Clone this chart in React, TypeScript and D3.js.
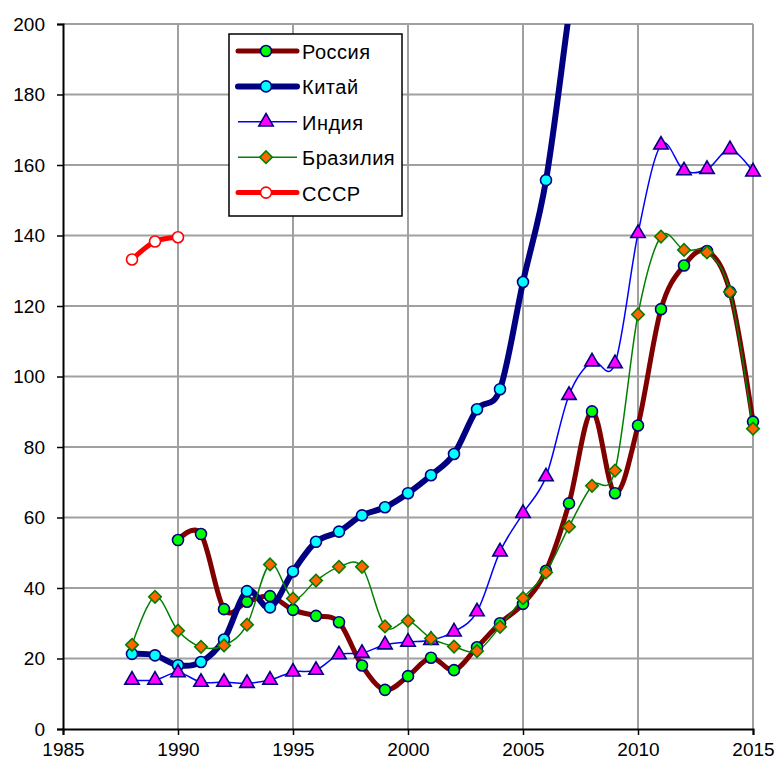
import { useRef, useEffect } from "react";
import * as d3 from "d3";

const years = [
  1988, 1989, 1990, 1991, 1992, 1993, 1994, 1995, 1996, 1997, 1998, 1999,
  2000, 2001, 2002, 2003, 2004, 2005, 2006, 2007, 2008, 2009, 2010, 2011,
  2012, 2013, 2014, 2015,
];

type V = number | null;

const russia: V[] = [
  null, null, 53.6, 55.3, 34.0, 36.1, 37.7, 33.8, 32.1, 30.3, 18.0, 11.1,
  15.0, 20.2, 16.7, 23.2, 30.0, 35.5, 44.9, 64.0, 90.1, 66.9, 86.1, 119.1,
  131.5, 135.6, 124.0, 87.2,
];
// values after 2007 run off the top of the chart
const china: V[] = [
  21.3, 20.9, 18.1, 19.0, 25.4, 39.1, 34.5, 44.7, 53.1, 56.0, 60.6, 62.9,
  66.9, 72.0, 78.0, 90.7, 96.4, 126.8, 155.7, 203, 250, null, null, null,
  null, null, null, null,
];
const india: V[] = [
  13.9, 13.9, 16.0, 13.3, 13.3, 13.0, 13.9, 16.2, 16.7, 21.1, 21.5, 23.9,
  24.7, 25.2, 27.6, 33.3, 50.3, 61.2, 71.6, 94.7, 104.2, 103.7, 140.6, 165.7,
  158.4, 158.8, 164.4, 158.1,
];
const brazil: V[] = [
  23.9, 37.5, 27.9, 23.3, 23.7, 29.6, 46.7, 37.0, 42.1, 46.0, 46.0, 29.1,
  30.7, 25.7, 23.4, 22.1, 29.0, 37.1, 44.4, 57.4, 69.0, 73.3, 117.6, 139.7,
  135.9, 135.2, 124.0, 85.2,
];
const ussr: V[] = [
  133.2, 138.3, 139.5, null, null, null, null, null, null, null, null, null,
  null, null, null, null, null, null, null, null, null, null, null, null,
  null, null, null, null,
];

const seriesNames = ["Россия", "Китай", "Индия", "Бразилия", "СССР"];
const xTicks = [1985, 1990, 1995, 2000, 2005, 2010, 2015];
const yTicks = [0, 20, 40, 60, 80, 100, 120, 140, 160, 180, 200];

type Style = {
  line: string;
  width: number;
  marker: "circle" | "triangle" | "diamond";
  fill: string;
  stroke: string;
};

const styles: Style[] = [
  { line: "#800000", width: 5, marker: "circle", fill: "#00ff00", stroke: "#000080" },
  { line: "#000080", width: 6, marker: "circle", fill: "#00ffff", stroke: "#000080" },
  { line: "#0000ff", width: 1.5, marker: "triangle", fill: "#ff00ff", stroke: "#000080" },
  { line: "#008000", width: 1.5, marker: "diamond", fill: "#ff6600", stroke: "#008000" },
  { line: "#ff0000", width: 5, marker: "circle", fill: "#ffffff", stroke: "#ff0000" },
];

const width = 778;
const height = 762;
const margin = { left: 63, right: 25, top: 24, bottom: 33 };
const font = "'Liberation Sans', Arial, sans-serif";

function drawMarker(
  g: d3.Selection<SVGGElement, unknown, null, undefined>,
  s: Style,
  x: number,
  y: number,
) {
  if (s.marker === "circle") {
    g.append("circle")
      .attr("cx", x)
      .attr("cy", y)
      .attr("r", 5.5)
      .attr("fill", s.fill)
      .attr("stroke", s.stroke)
      .attr("stroke-width", 1.6);
  } else if (s.marker === "triangle") {
    g.append("path")
      .attr("d", d3.symbol(d3.symbolTriangle, 90)())
      .attr("transform", `translate(${x},${y})`)
      .attr("fill", s.fill)
      .attr("stroke", s.stroke)
      .attr("stroke-width", 1.6);
  } else {
    g.append("path")
      .attr("d", d3.symbol(d3.symbolSquare, 78)())
      .attr("transform", `translate(${x},${y}) rotate(45)`)
      .attr("fill", s.fill)
      .attr("stroke", s.stroke)
      .attr("stroke-width", 1.6);
  }
}

export default function App() {
  const ref = useRef<SVGSVGElement>(null);

  useEffect(() => {
    if (!ref.current) return;
    const svg = d3.select(ref.current);
    svg.selectAll("*").remove();

    const x = d3
      .scaleLinear()
      .domain([1985, 2015])
      .range([margin.left, width - margin.right]);
    const y = d3
      .scaleLinear()
      .domain([0, 200])
      .range([height - margin.bottom, margin.top]);

    // clip lines at the top of the plot
    svg
      .append("defs")
      .append("clipPath")
      .attr("id", "plotclip")
      .append("rect")
      .attr("x", 0)
      .attr("y", margin.top)
      .attr("width", width)
      .attr("height", height - margin.top);

    // Grid
    const grid = svg.append("g");
    yTicks.slice(1).forEach((t) => {
      grid
        .append("line")
        .attr("x1", x(1985))
        .attr("x2", x(2015))
        .attr("y1", y(t))
        .attr("y2", y(t))
        .attr("stroke", "#a0a0a0")
        .attr("stroke-width", 2);
    });
    xTicks.slice(1).forEach((t) => {
      grid
        .append("line")
        .attr("x1", x(t))
        .attr("x2", x(t))
        .attr("y1", y(0))
        .attr("y2", y(200))
        .attr("stroke", "#a0a0a0")
        .attr("stroke-width", 2);
    });

    // Axes
    const axisX = svg
      .append("g")
      .attr("transform", `translate(0, ${y(0)})`)
      .call(d3.axisBottom(x).tickValues(xTicks).tickFormat(d3.format("d")).tickSizeOuter(0).tickSize(6).tickPadding(8));
    const axisY = svg
      .append("g")
      .attr("transform", `translate(${x(1985)}, 0)`)
      .call(d3.axisLeft(y).tickValues(yTicks).tickSizeOuter(0).tickSize(6).tickPadding(12));
    [axisX, axisY].forEach((a) => {
      a.select(".domain").attr("stroke", "#000").attr("stroke-width", 2);
      a.selectAll(".tick line").attr("stroke", "#000").attr("stroke-width", 1.5);
      a.selectAll(".tick text")
        .attr("font-family", font)
        .attr("font-size", 19)
        .attr("fill", "#000");
    });
    axisX.selectAll(".tick text").attr("dy", "0.71em").attr("y", 14);

    const all = [russia, china, india, brazil, ussr];

    const line = d3
      .line<[number, V]>()
      .defined((d) => d[1] !== null)
      .x((d) => x(d[0]))
      .y((d) => y(d[1] as number))
      .curve(d3.curveCardinal.tension(0));

    const plot = svg.append("g").attr("clip-path", "url(#plotclip)");
    all.forEach((vals, i) => {
      const pts = years.map((yr, j) => [yr, vals[j]] as [number, V]);
      plot
        .append("path")
        .datum(pts)
        .attr("fill", "none")
        .attr("stroke", styles[i].line)
        .attr("stroke-width", styles[i].width)
        .attr("stroke-linejoin", "round")
        .attr("d", line);
    });
    all.forEach((vals, i) => {
      const g = plot.append("g");
      years.forEach((yr, j) => {
        const v = vals[j];
        if (v === null || v > 200) return;
        drawMarker(g, styles[i], x(yr), y(v));
      });
    });

    // Legend
    const legend = svg.append("g");
    legend
      .append("rect")
      .attr("x", 229)
      .attr("y", 34)
      .attr("width", 173)
      .attr("height", 182)
      .attr("fill", "#fff")
      .attr("stroke", "#000")
      .attr("stroke-width", 1.5);
    seriesNames.forEach((name, i) => {
      const ry = 51 + i * 35.4;
      const s = styles[i];
      legend
        .append("line")
        .attr("x1", 238)
        .attr("x2", 297)
        .attr("y1", ry)
        .attr("y2", ry)
        .attr("stroke", s.line)
        .attr("stroke-width", s.width)
        .attr("stroke-linecap", s.width > 2 ? "round" : "butt");
      drawMarker(legend, s, 266, ry);
      legend
        .append("text")
        .attr("x", 302)
        .attr("y", ry + 8)
        .attr("font-family", font)
        .attr("font-size", 20)
        .attr("letter-spacing", 0.5)
        .attr("fill", "#000")
        .text(name);
    });
  }, []);

  return (
    <svg
      ref={ref}
      width={width}
      height={height}
      style={{ position: "absolute", left: 0, top: 0, background: "#fff" }}
    />
  );
}
